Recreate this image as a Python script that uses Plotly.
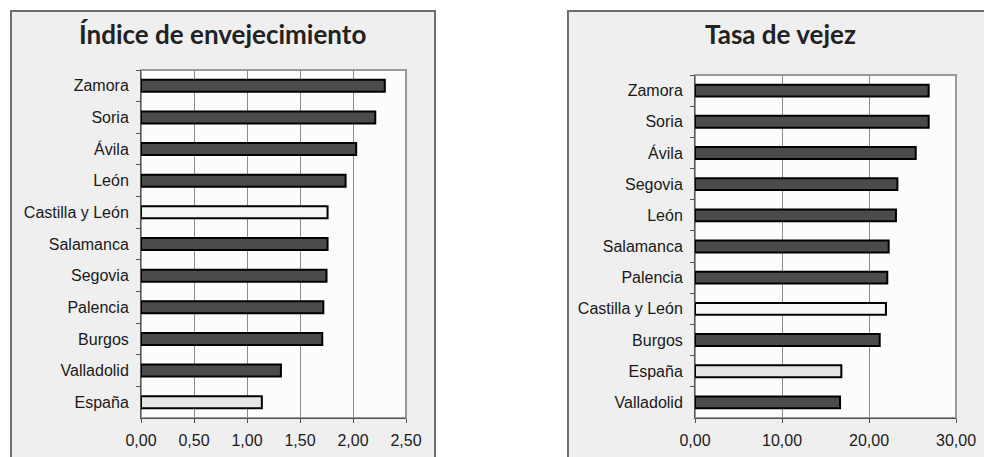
import plotly.graph_objects as go

W, H = 984, 457

# ---- data ----
idx_categories = ["Zamora", "Soria", "Ávila", "León", "Castilla y León", "Salamanca",
                  "Segovia", "Palencia", "Burgos", "Valladolid", "España"]
idx_values = [2.30, 2.21, 2.03, 1.93, 1.76, 1.76, 1.75, 1.72, 1.71, 1.32, 1.14]

vej_categories = ["Zamora", "Soria", "Ávila", "Segovia", "León", "Salamanca",
                  "Palencia", "Castilla y León", "Burgos", "España", "Valladolid"]
vej_values = [26.86, 26.86, 25.37, 23.26, 23.10, 22.26, 22.10, 21.95, 21.23, 16.82, 16.67]

idx_ticks = [0, 0.5, 1.0, 1.5, 2.0, 2.5]
vej_ticks = [0, 10, 20, 30]

titles = ["Índice de envejecimiento", "Tasa de vejez"]

# ---- styling ----
DARK = "#4b4b4b"
special = {"Castilla y León": "#f6f6f6", "España": "#e6e6e6"}


def colors(cats):
    return [special.get(c, DARK) for c in cats]


def px_x(p):
    return p / W


def px_y(p):
    return 1 - p / H


fig = go.Figure()
fig.add_trace(go.Bar(
    y=idx_categories, x=idx_values, orientation="h",
    marker=dict(color=colors(idx_categories), line=dict(color="#000000", width=2)),
    width=0.38, xaxis="x", yaxis="y", showlegend=False,
))
fig.add_trace(go.Bar(
    y=vej_categories, x=vej_values, orientation="h",
    marker=dict(color=colors(vej_categories), line=dict(color="#000000", width=2)),
    width=0.38, xaxis="x2", yaxis="y2", showlegend=False,
))

# plot areas in pixels
L1 = (141, 406, 70, 418)
L2 = (695, 956, 75, 418)

tickfont = dict(family="Liberation Sans, Arial, sans-serif", size=16, color="#1a1a1a")

xcommon = dict(
    showgrid=True, gridcolor="#8c8c8c", gridwidth=1,
    showline=True, linecolor="#555555", linewidth=1,
    ticks="outside", ticklen=4, tickcolor="#555555",
    tickformat=".2f", tickfont=tickfont, zeroline=False, automargin=False,
    ticklabelstandoff=4,
)
ycommon = dict(
    type="category", autorange="reversed", showgrid=False,
    showline=True, linecolor="#555555", linewidth=1,
    ticks="outside", ticklen=4, tickcolor="#555555", tickson="boundaries",
    tickfont=tickfont, automargin=False, ticklabelstandoff=8,
)

fig.update_layout(
    width=W, height=H,
    margin=dict(l=0, r=0, t=0, b=0),
    paper_bgcolor="#ffffff", plot_bgcolor="rgba(0,0,0,0)",
    separators=",.",
    xaxis=dict(domain=[px_x(L1[0]), px_x(L1[1])], range=[0, 2.5], tickvals=idx_ticks,
               anchor="y", **xcommon),
    yaxis=dict(domain=[px_y(L1[3]), px_y(L1[2])], anchor="x", **ycommon),
    xaxis2=dict(domain=[px_x(L2[0]), px_x(L2[1])], range=[0, 30], tickvals=vej_ticks,
                anchor="y2", **xcommon),
    yaxis2=dict(domain=[px_y(L2[3]), px_y(L2[2])], anchor="x2", **ycommon),
)

shapes = []
# outer boxes
for (x0, x1) in [(11, 435), (568, 993)]:
    shapes.append(dict(type="rect", xref="paper", yref="paper",
                       x0=px_x(x0), x1=px_x(x1), y0=px_y(11), y1=px_y(470),
                       fillcolor="#efefef", line=dict(color="#6e6e6e", width=2),
                       layer="below"))
# inner plot areas
for (x0, x1, y0, y1) in [L1, L2]:
    shapes.append(dict(type="rect", xref="paper", yref="paper",
                       x0=px_x(x0), x1=px_x(x1), y0=px_y(y0), y1=px_y(y1),
                       fillcolor="#fcfcfc", line=dict(color="#9a9a9a", width=2),
                       layer="below"))
fig.update_layout(shapes=shapes)

# titles
title_font = dict(family="Lato, Open Sans, sans-serif", size=26, color="#222222")
for text, cx in zip(titles, [222, 780.5]):
    fig.add_annotation(text="<b>%s</b>" % text, xref="paper", yref="paper",
                       x=px_x(cx), y=px_y(34), xanchor="center", yanchor="middle",
                       showarrow=False, font=title_font)

fig.write_html(
    "out.html",
    config={"displayModeBar": False},
    post_script="document.body.style.margin='0px';document.body.style.overflow='hidden';",
)
